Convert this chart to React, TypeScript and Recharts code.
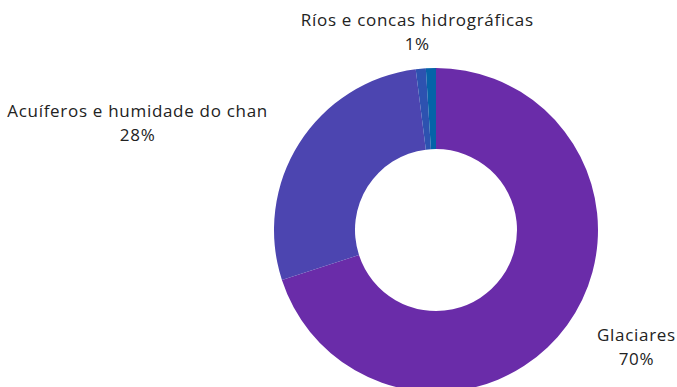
import React from 'react';
import { PieChart, Pie, Cell } from 'recharts';

const names = ['Glaciares', 'Acuíferos e humidade do chan', 'Ríos e concas hidrográficas', 'Outros'];
const shares = [70, 28, 1, 1];
const COLORS = ['#6A2CA9', '#4C45B0', '#2D52B0', '#0563A8'];

const data = names.map((name, i) => ({ name, value: shares[i] }));

const FONT = '"Open Sans", sans-serif';
const FONT_SIZE = 17;
const SPACING = 0.7;
const RAD = Math.PI / 180;

// hide labels whose slice centre sits too close to the previous visible one
const total = shares.reduce((a, b) => a + b, 0);
const visible: boolean[] = [];
{
  let acc = 0;
  let last = -999;
  shares.forEach((v) => {
    const mid = ((acc + v / 2) / total) * 360;
    acc += v;
    const show = mid - last > 8;
    if (show) last = mid;
    visible.push(show);
  });
}

let ctx: CanvasRenderingContext2D | null = null;
function textWidth(s: string) {
  if (!ctx) ctx = document.createElement('canvas').getContext('2d');
  if (!ctx) return s.length * 9;
  ctx.font = `500 ${FONT_SIZE}px ${FONT}`;
  return ctx.measureText(s).width + s.length * SPACING;
}

function renderLabel(props: any) {
  const { cx, cy, midAngle, outerRadius, percent, name, index } = props;
  if (!visible[index]) return null;
  const r = outerRadius + 37;
  const cos = Math.cos(-midAngle * RAD);
  const sin = Math.sin(-midAngle * RAD);
  const pct = `${Math.round(percent * 100)}%`;
  const w = Math.max(textWidth(name), textWidth(pct));
  let x = cx + r * cos;
  const y = cy + r * sin;
  if (Math.abs(cos) > 0.5) x += (cos > 0 ? 1 : -1) * (w / 2);
  return (
    <text
      x={x}
      y={y}
      textAnchor="middle"
      fill="#222"
      fontFamily={FONT}
      fontSize={FONT_SIZE}
      fontWeight={500}
      letterSpacing={SPACING}
    >
      <tspan x={x} dy={-6}>{name}</tspan>
      <tspan x={x} dy={24}>{pct}</tspan>
    </text>
  );
}

export default function App() {
  return (
    <div style={{ width: 677, height: 387, background: '#fff', overflow: 'hidden' }}>
      <style>{'body{margin:0}'}</style>
      <PieChart width={677} height={387} margin={{ top: 0, right: 0, bottom: 0, left: 0 }}>
        <Pie
          data={data}
          dataKey="value"
          nameKey="name"
          cx={436}
          cy={230}
          innerRadius={81}
          outerRadius={162}
          startAngle={90}
          endAngle={-270}
          stroke="none"
          label={renderLabel}
          labelLine={false}
          isAnimationActive={false}
        >
          {data.map((entry, i) => (
            <Cell key={entry.name} fill={COLORS[i]} />
          ))}
        </Pie>
      </PieChart>
    </div>
  );
}
